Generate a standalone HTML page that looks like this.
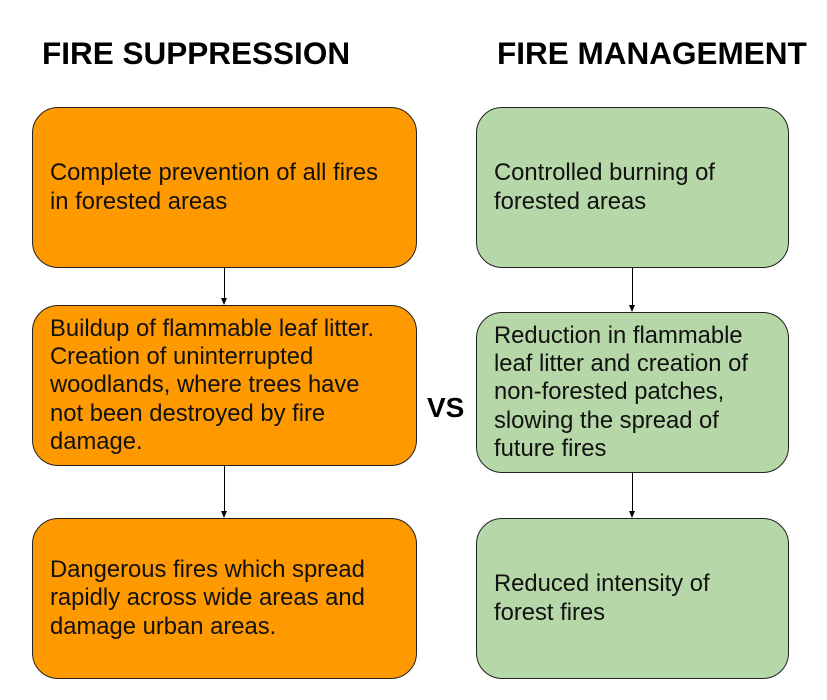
<!DOCTYPE html>
<html><head><style>
body{margin:0;width:827px;height:700px;background:#fff;position:relative;font-family:"Liberation Sans",Arial,sans-serif;overflow:hidden}
.t{position:absolute;font-weight:bold;font-size:31.5px;color:#000;white-space:nowrap}
.b{position:absolute;box-sizing:border-box;border:1.3px solid #222;border-radius:26px;display:flex;align-items:center;font-size:23.8px;line-height:28.3px;color:#111;white-space:nowrap}
.o{background:#ff9900;left:32px;width:385px;padding-left:17px}
.g{background:#b6d7a8;left:476px;width:313px;padding-left:17px}
.a{position:absolute;width:1px;background:#000}
.h{position:absolute;width:0;height:0;border-left:3px solid transparent;border-right:3px solid transparent;border-top:7px solid #000}
</style></head><body>
<div class="t" style="left:42px;top:35px">FIRE SUPPRESSION</div>
<div class="t" style="left:497px;top:35px">FIRE MANAGEMENT</div>
<div class="t" style="left:427px;top:392px;font-size:28px">VS</div>

<div class="b o" style="top:107px;height:161px">Complete prevention of all fires<br>in forested areas</div>
<div class="b o" style="top:305px;height:161px">Buildup of flammable leaf litter.<br>Creation of uninterrupted<br>woodlands, where trees have<br>not been destroyed by fire<br>damage.</div>
<div class="b o" style="top:518px;height:161px">Dangerous fires which spread<br>rapidly across wide areas and<br>damage urban areas.</div>

<div class="b g" style="top:107px;height:161px">Controlled burning of<br>forested areas</div>
<div class="b g" style="top:312px;height:161px">Reduction in flammable<br>leaf litter and creation of<br>non-forested patches,<br>slowing the spread of<br>future fires</div>
<div class="b g" style="top:518px;height:161px">Reduced intensity of<br>forest fires</div>

<div class="a" style="left:224px;top:268px;height:32px"></div><div class="h" style="left:221px;top:298px"></div>
<div class="a" style="left:224px;top:466px;height:46px"></div><div class="h" style="left:221px;top:511px"></div>
<div class="a" style="left:632px;top:268px;height:39px"></div><div class="h" style="left:629px;top:305px"></div>
<div class="a" style="left:632px;top:473px;height:39px"></div><div class="h" style="left:629px;top:511px"></div>
</body></html>
